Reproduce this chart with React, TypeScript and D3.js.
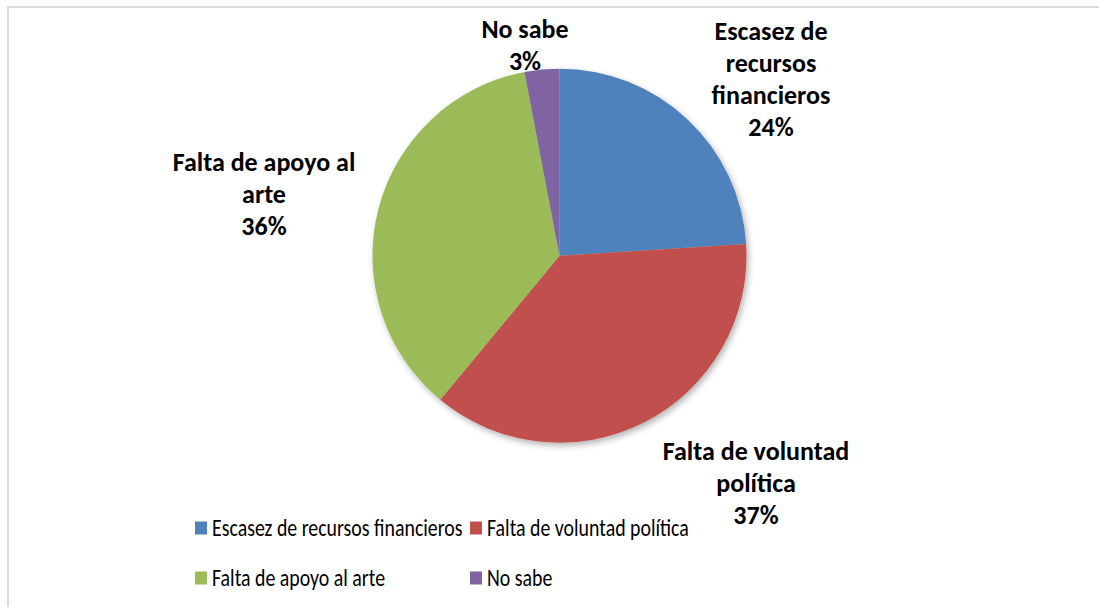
import React from "react";
import * as d3 from "d3";

const categories = [
  "Escasez de recursos financieros",
  "Falta de voluntad política",
  "Falta de apoyo al arte",
  "No sabe",
];
const values = [24, 37, 36, 3];
const colors = ["#4F81BD", "#C0504D", "#9BBB59", "#8064A2"];
const labelLines = [
  ["Escasez de", "recursos", "financieros", "24%"],
  ["Falta de voluntad", "política", "37%"],
  ["Falta de apoyo al", "arte", "36%"],
  ["No sabe", "3%"],
];

const W = 1099;
const H = 607;
const cx = 559.5;
const cy = 255.7;
const R = 187;

// label anchor: center x, first baseline y
const labelPos = [
  { x: 771, y: 40 },
  { x: 756, y: 460 },
  { x: 264, y: 171 },
  { x: 525, y: 38 },
];
const lineH = 32;

const legendItems = [
  { x: 195, y: 528 },
  { x: 470, y: 528 },
  { x: 195, y: 578 },
  { x: 470, y: 578 },
];

const FONT = "Carlito, Calibri, Lato, 'Open Sans', sans-serif";

export default function App() {
  const pie = d3.pie<number>().sort(null).value((d) => d).startAngle(0);
  const arcs = pie(values);
  const arcGen = d3.arc<d3.PieArcDatum<number>>().innerRadius(0).outerRadius(R);

  return (
    <svg
      width={W}
      height={H}
      style={{ position: "absolute", left: 0, top: 0, background: "#fff" }}
    >
      <defs>
        <filter id="sh" x="-20%" y="-20%" width="140%" height="140%">
          <feDropShadow dx="2" dy="3" stdDeviation="3" floodColor="#000" floodOpacity="0.3" />
        </filter>
      </defs>
      <rect x={0} y={0} width={W} height={H} fill="#fff" />
      <rect x={8} y={7} width={1300} height={800} fill="none" stroke="#d9d9d9" strokeWidth={2} />
      <g transform={`translate(${cx},${cy})`} filter="url(#sh)">
        {arcs.map((a, i) => (
          <path key={i} d={arcGen(a) || ""} fill={colors[i]} />
        ))}
      </g>
      <g fontFamily={FONT} fontSize={24.5} fill="#000">
        {legendItems.map((p, i) => (
          <g key={i}>
            <rect x={p.x} y={p.y - 6.5} width={12} height={13} fill={colors[i]} />
            <g transform={`translate(${p.x + 17},${p.y}) scale(0.81,1)`}>
              <text x={0} y={0} dominantBaseline="central">
                {categories[i]}
              </text>
            </g>
          </g>
        ))}
      </g>
      <g fontFamily={FONT} fontSize={26} fontWeight="bold" fill="#000" textAnchor="middle">
        {labelLines.map((lines, i) => (
          <text key={i} x={labelPos[i].x} y={labelPos[i].y}>
            {lines.map((l, j) => (
              <tspan key={j} x={labelPos[i].x} y={labelPos[i].y + j * lineH}>
                {l}
              </tspan>
            ))}
          </text>
        ))}
      </g>
    </svg>
  );
}
